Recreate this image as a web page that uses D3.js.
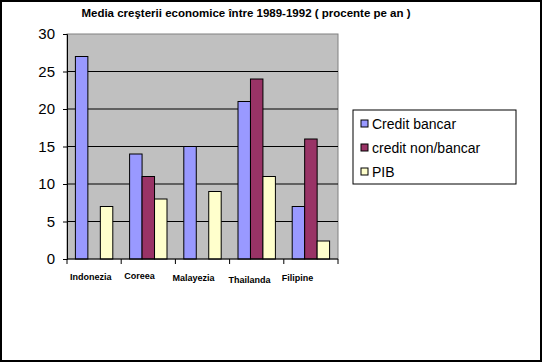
<!DOCTYPE html>
<html>
<head>
<meta charset="UTF-8">
<script src="https://d3js.org/d3.v7.min.js"></script>
<style>
  body { margin: 0; background: #fff; }
  svg { display: block; font-family: Arial, "Liberation Sans", sans-serif; }
</style>
</head>
<body>
<script>
// data
var countries = ["Indonezia", "Coreea", "Malayezia", "Thailanda", "Filipine"];
var seriesNames = ["Credit bancar", "credit non/bancar", "PIB"];
var creditBancar = [27, 14, 15, 21, 7];
var creditNonBancar = [0, 11, 0, 24, 16];
var pib = [7, 8, 9, 11, 2.4];
var yTicks = [0, 5, 10, 15, 20, 25, 30];
var colors = ["#9999ff", "#993366", "#ffffcc"];

var W = 542, H = 362;
var plot = { left: 67, right: 338, top: 34, bottom: 259 };

var svg = d3.select("body").append("svg")
    .attr("width", W)
    .attr("height", H);

// outer frame
svg.append("rect")
    .attr("x", 1).attr("y", 1)
    .attr("width", W - 2).attr("height", H - 2)
    .attr("fill", "#fff")
    .attr("stroke", "#000")
    .attr("stroke-width", 2);

// title
svg.append("text")
    .attr("x", 246).attr("y", 17)
    .attr("text-anchor", "middle")
    .style("font-size", "11.5px")
    .style("font-weight", "bold")
    .text("Media creşterii economice între 1989-1992 ( procente pe an )");

var x = d3.scaleBand()
    .domain(countries)
    .range([plot.left, plot.right])
    .paddingInner(0.31)
    .paddingOuter(0.155);

var xs = d3.scaleBand()
    .domain(seriesNames)
    .range([0, x.bandwidth()]);

var y = d3.scaleLinear()
    .domain([0, 30])
    .range([plot.bottom, plot.top]);

// plot area background
svg.append("rect")
    .attr("x", plot.left).attr("y", plot.top)
    .attr("width", plot.right - plot.left)
    .attr("height", plot.bottom - plot.top)
    .attr("fill", "#c0c0c0")
    .attr("stroke", "#808080")
    .attr("stroke-width", 1);

// gridlines
svg.append("g")
    .selectAll("line")
    .data(yTicks.filter(function (d) { return d > 0 && d < 30; }))
    .join("line")
    .attr("x1", plot.left).attr("x2", plot.right)
    .attr("y1", function (d) { return y(d); })
    .attr("y2", function (d) { return y(d); })
    .attr("stroke", "#000")
    .attr("stroke-width", 1);

// bars
var table = countries.map(function (c, i) {
    return [
        { country: c, series: seriesNames[0], value: creditBancar[i], color: colors[0] },
        { country: c, series: seriesNames[1], value: creditNonBancar[i], color: colors[1] },
        { country: c, series: seriesNames[2], value: pib[i], color: colors[2] }
    ];
});

svg.append("g")
    .selectAll("g")
    .data(table)
    .join("g")
    .attr("transform", function (d) { return "translate(" + x(d[0].country) + ",0)"; })
    .selectAll("rect")
    .data(function (d) { return d.filter(function (e) { return e.value > 0; }); })
    .join("rect")
    .attr("x", function (d) { return xs(d.series); })
    .attr("y", function (d) { return y(d.value); })
    .attr("width", xs.bandwidth())
    .attr("height", function (d) { return y(0) - y(d.value); })
    .attr("fill", function (d) { return d.color; })
    .attr("stroke", "#000")
    .attr("stroke-width", 1);

// y axis
var yAxis = d3.axisLeft(y).tickValues(yTicks).tickSize(4).tickPadding(8);
var yg = svg.append("g")
    .attr("transform", "translate(" + plot.left + ",0)")
    .call(yAxis);
yg.selectAll("text")
    .style("font-size", "15px")
    .attr("fill", "#000");

// x axis with ticks between categories
var xEdges = d3.scaleLinear().domain([0, countries.length]).range([plot.left, plot.right]);
var xg = svg.append("g")
    .attr("transform", "translate(0," + plot.bottom + ")");
xg.append("line")
    .attr("x1", plot.left).attr("x2", plot.right)
    .attr("stroke", "#000");
xg.selectAll("line.tick")
    .data(d3.range(countries.length + 1))
    .join("line")
    .attr("class", "tick")
    .attr("x1", function (d) { return xEdges(d); })
    .attr("x2", function (d) { return xEdges(d); })
    .attr("y1", 0).attr("y2", 5)
    .attr("stroke", "#000");
// labels sit near the left tick of each category, slightly staggered
var labelDx = [3, 3, -3, -1, -2];
var labelDy = [21, 20, 22, 24, 22];
xg.selectAll("text")
    .data(countries)
    .join("text")
    .attr("x", function (d, i) { return xEdges(i) + labelDx[i]; })
    .attr("y", function (d, i) { return labelDy[i]; })
    .style("font-size", "9px")
    .style("font-weight", "bold")
    .text(function (d) { return d; });

// legend
var legend = svg.append("g").attr("transform", "translate(353,110)");
legend.append("rect")
    .attr("width", 163).attr("height", 74)
    .attr("fill", "#fff")
    .attr("stroke", "#000");
var items = legend.selectAll("g")
    .data(seriesNames)
    .join("g")
    .attr("transform", function (d, i) { return "translate(8," + (14 + i * 24) + ")"; });
items.append("rect")
    .attr("x", 0).attr("y", -4)
    .attr("width", 7).attr("height", 7)
    .attr("fill", function (d, i) { return colors[i]; })
    .attr("stroke", "#000");
items.append("text")
    .attr("x", 11).attr("y", 5)
    .style("font-size", "14px")
    .text(function (d) { return d; });
</script>
</body>
</html>
